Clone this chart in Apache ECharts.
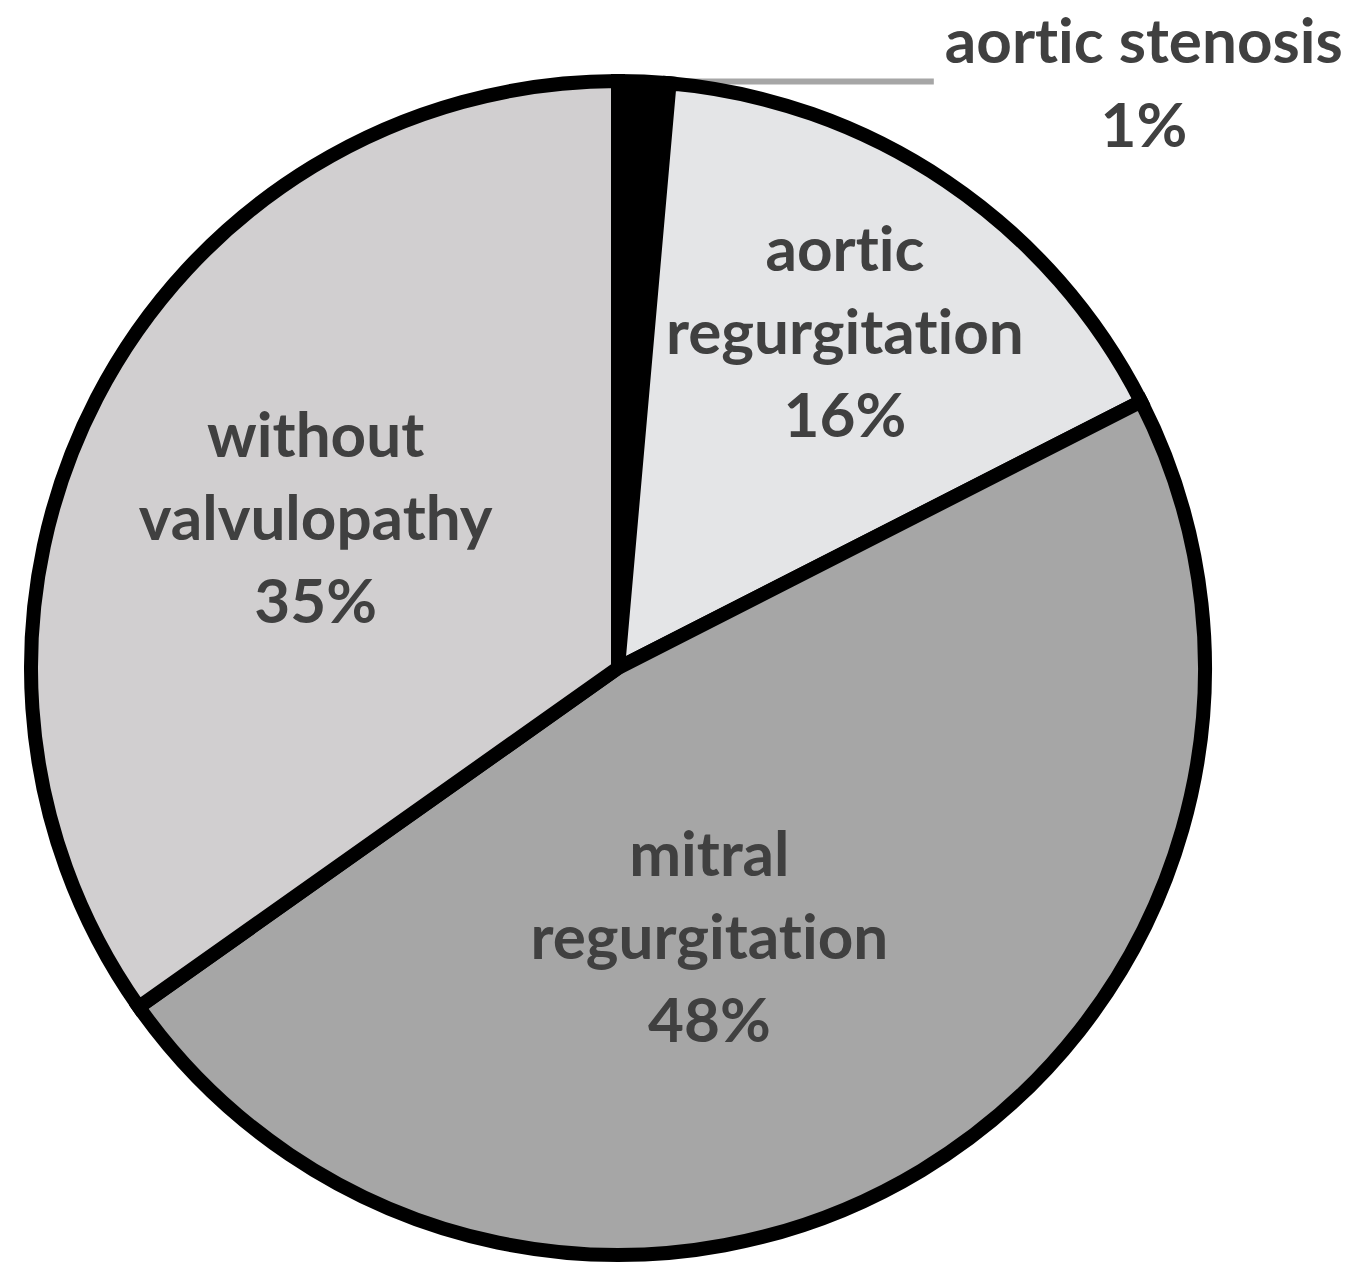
<!DOCTYPE html>
<html>
<head>
<meta charset="utf-8">
<script src="https://cdn.jsdelivr.net/npm/echarts@6/dist/echarts.min.js"></script>
<style>
  html, body { margin: 0; padding: 0; background: #fff; }
  #main { width: 1364px; height: 1287px; }
  #main text {
    font-variant-ligatures: none !important;
    font-feature-settings: "liga" 0, "clig" 0 !important;
  }
</style>
</head>
<body>
<div id="main"></div>
<script>
// values (labels show them rounded)
var categories = ['aortic stenosis', 'aortic regurgitation', 'mitral regurgitation', 'without valvulopathy'];
var shares = [1.4, 16.1, 47.7, 34.8];
var colors = ['#000000', '#e4e5e7', '#a6a6a6', '#d1cfd0'];

var chartDom = document.getElementById('main');
var myChart = echarts.init(chartDom, null, { renderer: 'svg' });

var font = 'Lato, "Open Sans", sans-serif';
// nudges of the inside labels from the default middle-of-slice spot
var labelShift = [[0, 0], [61, -92], [-62, 13], [-39, -16]];

var data = [];
for (var i = 0; i < categories.length; i++) {
  var item = {
    name: categories[i],
    value: shares[i],
    itemStyle: { color: colors[i] }
  };
  if (i === 0) {
    item.label = {
      position: 'outside',
      distanceToLabelLine: 10,
      formatter: function (p) {
        return '{s|' + p.name + '}\n{s|' + p.percent + '%}';
      },
      rich: {
        s: {
          width: 400, align: 'center',
          fontSize: 62, lineHeight: 84, fontWeight: 'bold',
          fontFamily: font, color: '#404040'
        }
      }
    };
    item.labelLine = {
      show: true,
      length: 0.1,
      length2: 290,
      smooth: false,
      lineStyle: { color: '#a6a6a6', width: 6 }
    };
  }
  data.push(item);
}

var option = {
  backgroundColor: '#ffffff',
  animation: false,
  series: [
    {
      type: 'pie',
      center: [618, 668],
      radius: 587,
      startAngle: 90,
      clockwise: true,
      percentPrecision: 0,
      avoidLabelOverlap: false,
      silent: true,
      itemStyle: {
        borderColor: '#000000',
        borderWidth: 14,
        borderJoin: 'miter'
      },
      label: {
        show: true,
        position: 'inside',
        formatter: function (p) {
          return p.name.replace(' ', '\n') + '\n' + p.percent + '%';
        },
        fontSize: 62,
        lineHeight: 83,
        fontWeight: 'bold',
        fontFamily: font,
        color: '#404040',
        align: 'center'
      },
      labelLine: { show: false },
      labelLayout: function (params) {
        var s = labelShift[params.dataIndex];
        return { dx: s[0], dy: s[1] };
      },
      data: data
    }
  ]
};

option && myChart.setOption(option);
</script>
</body>
</html>
